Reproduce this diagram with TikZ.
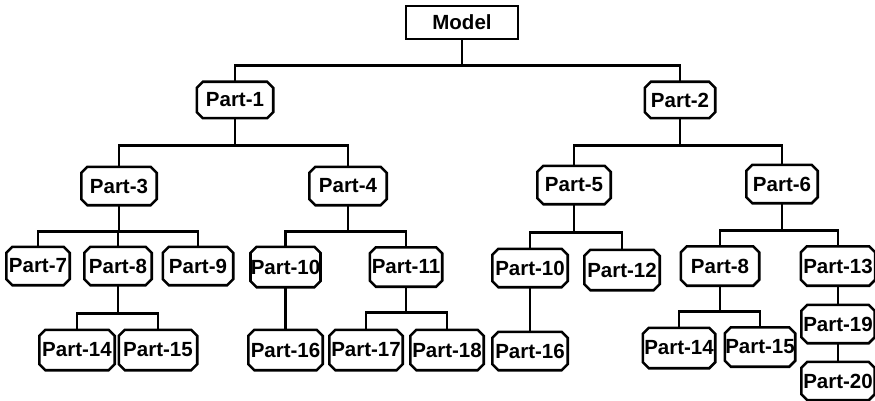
\documentclass[tikz,border=0pt]{standalone}
\usepackage{fontspec}
\setmainfont{Liberation Sans}
\newcommand\pbox[6]{%
  \node[parttext, minimum width=#4pt, minimum height=#5pt] (#1) at (#2,#3) {#6};
  \draw[link] ([xshift=6pt]#1.north west) -- ([xshift=-6pt]#1.north east)
    -- ([yshift=-6pt]#1.north east) -- ([yshift=6pt]#1.south east)
    -- ([xshift=-6pt]#1.south east) -- ([xshift=6pt]#1.south west)
    -- ([yshift=6pt]#1.south west) -- ([yshift=-6pt]#1.north west) -- cycle;}
\begin{document}
\begin{tikzpicture}[x=1pt,y=-1pt,
  parttext/.style={rectangle, inner sep=0pt,
    font=\fontsize{20.5}{20.5}\selectfont\bfseries},
  topbox/.style={rectangle, draw, line width=2.6pt, inner sep=0pt,
    font=\fontsize{20.5}{20.5}\selectfont\bfseries},
  link/.style={line width=2.6pt, line join=miter}]
\useasboundingbox (0,0) rectangle (875,401);
\node[topbox, minimum width=112pt, minimum height=33pt] (model) at (462,22.5) {Model};
\pbox{p1}{235}{100}{76}{36}{Part-1}
\pbox{p2}{680}{100}{70}{36}{Part-2}
\pbox{p3}{119}{186}{75}{38}{Part-3}
\pbox{p4}{348}{186}{77}{38}{Part-4}
\pbox{p5}{574}{185}{73}{38}{Part-5}
\pbox{p6}{782}{184}{71}{38}{Part-6}
\pbox{p7}{38}{266}{63}{38}{Part-7}
\pbox{p8}{118}{266}{67}{38}{Part-8}
\pbox{p9}{198}{266}{70}{38}{Part-9}
\pbox{p10a}{285.5}{267}{68}{40}{Part-10}
\pbox{p11}{406}{267}{72}{39}{Part-11}
\pbox{p10b}{530}{268}{75}{38}{Part-10}
\pbox{p12}{622}{270}{75}{40}{Part-12}
\pbox{p8b}{720}{266}{78}{39}{Part-8}
\pbox{p13}{838}{266}{74}{39}{Part-13}
\pbox{p14a}{77}{350}{75}{40}{Part-14}
\pbox{p15a}{158}{350}{78}{40}{Part-15}
\pbox{p16a}{285.5}{350}{74}{40}{Part-16}
\pbox{p17}{366}{350}{73}{40}{Part-17}
\pbox{p18}{447}{350}{73}{40}{Part-18}
\pbox{p16b}{530}{351}{75}{38}{Part-16}
\pbox{p14b}{679}{348}{72}{40}{Part-14}
\pbox{p15b}{760}{347}{70}{39}{Part-15}
\pbox{p19}{838}{324}{73}{38}{Part-19}
\pbox{p20}{838}{381}{73}{38}{Part-20}
% connectors
\foreach \c in {p1,p2} \draw[link] (model.south) -- ++(0,25) -| (\c.north);
\foreach \c in {p3,p4} \draw[link] (p1.south) -- ++(0,27) -| (\c.north);
\foreach \c in {p5,p6} \draw[link] (p2.south) -- ++(0,27) -| (\c.north);
\foreach \c in {p7,p8,p9} \draw[link] (p3.south) -- ++(0,26) -| (\c.north);
\foreach \c in {p10a,p11} \draw[link] (p4.south) -- ++(0,26) -| (\c.north);
\foreach \c in {p10b,p12} \draw[link] (p5.south) -- ++(0,28) -| (\c.north);
\foreach \c in {p8b,p13} \draw[link] (p6.south) -- ++(0,27) -| (\c.north);
\foreach \c in {p14a,p15a} \draw[link] (p8.south) -- ++(0,28) -| (\c.north);
\foreach \c in {p17,p18} \draw[link] (p11.south) -- ++(0,25.5) -| (\c.north);
\foreach \c in {p14b,p15b} \draw[link] (p8b.south) -- ++(0,25.5) -| (\c.north);
\draw[link] (p10a.south) -- (p16a.north);
\draw[link] (p10b.south) -- (p16b.north);
\draw[link] (p13.south) -- (p19.north);
\draw[link] (p19.south) -- (p20.north);
\end{tikzpicture}
\end{document}
